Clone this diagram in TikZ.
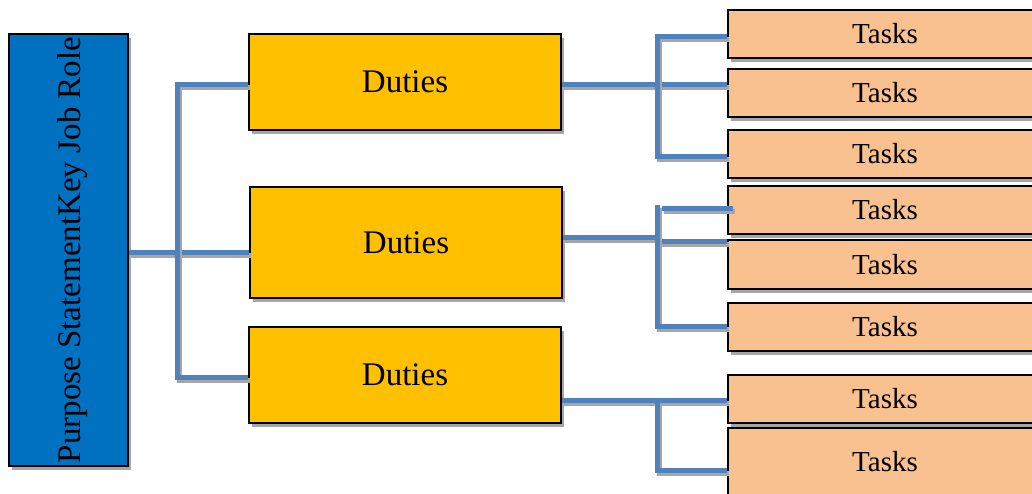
\documentclass[tikz,border=0pt]{standalone}
\usepackage{fontspec}
\setmainfont{Liberation Serif}
\usetikzlibrary{shadows}
\definecolor{roleblue}{HTML}{0070C0}
\definecolor{dutygold}{HTML}{FFC000}
\definecolor{taskpeach}{HTML}{F9C090}
\definecolor{linkblue}{HTML}{4F81BD}
\definecolor{shadegray}{HTML}{A6A6A6}
\tikzset{
  boxbase/.style={draw=black, line width=1.6pt, inner sep=0pt,
    drop shadow={shadow xshift=3pt, shadow yshift=-4pt, fill=shadegray, opacity=1}},
  rolebox/.style={boxbase, fill=roleblue, minimum width=119pt, minimum height=432pt},
  dutybox/.style={boxbase, fill=dutygold, minimum width=312pt, font=\fontsize{33}{36}\selectfont},
  taskbox/.style={boxbase, fill=taskpeach, minimum width=314pt, font=\fontsize{29}{31}\selectfont},
  link/.style={draw=linkblue, line width=5pt,
    preaction={draw=shadegray, line width=5pt, transform canvas={xshift=2pt, yshift=-3pt}}}
}
\begin{document}
\begin{tikzpicture}[x=1pt, y=-1pt]
\useasboundingbox (0,0) rectangle (1032,493);

% job role column
\node[rolebox] (role) at (68.5,250) {};
\node[rotate=90, font=\fontsize{33}{36}\selectfont] (roletext) at (73,250) {Purpose StatementKey Job Role};

% duties
\node[dutybox, minimum height=96pt]  (d1) at (405,82)    {Duties};
\node[dutybox, minimum height=111pt] (d2) at (406,242.5) {Duties};
\node[dutybox, minimum height=96pt]  (d3) at (405,375)   {Duties};

% tasks
\node[taskbox, minimum height=48pt] (t1) at (885,34)    {Tasks};
\node[taskbox, minimum height=48pt] (t2) at (885,93)    {Tasks};
\node[taskbox, minimum height=48pt] (t3) at (885,154)   {Tasks};
\node[taskbox, minimum height=48pt] (t4) at (885,210)   {Tasks};
\node[taskbox, minimum height=49pt] (t5) at (885,264.5) {Tasks};
\node[taskbox, minimum height=48pt] (t6) at (885,327)   {Tasks};
\node[taskbox, minimum height=48pt] (t7) at (885,399)   {Tasks};
\node[taskbox, minimum height=68pt] (t8) at (885,462)   {Tasks};

% junction points
\coordinate (ja) at (177,84);
\coordinate (jb) at (177,377);
\coordinate (k1a) at (657,36);
\coordinate (k1b) at (657,156);
\coordinate (k2m) at (657,237);
\coordinate (k2a) at (657,205);
\coordinate (k2b) at (657,326);
\coordinate (k2t) at (662,208);
\coordinate (k2e) at (733,208);
\coordinate (k3a) at (657,400);
\coordinate (k3b) at (657,470);

% role to duties
\draw[link] (role.east |- 0,252) -- (d2.west |- 0,252);
\draw[link] (d1.west |- ja) -- (ja) -- (jb) -- (d3.west |- jb);

% duties 1 to tasks 1-3
\draw[link] (d1.east |- 0,84) -- (t2.west |- 0,84);
\draw[link] (t1.west |- k1a) -- (k1a) -- (k1b) -- (t3.west |- k1b);

% duties 2 to tasks 4-6
\draw[link] (d2.east |- k2m) -- (k2m);
\draw[link] (k2m |- 0,241) -- (t5.west |- 0,241);
\draw[link] (k2a) -- (k2b) -- (t6.west |- k2b);
\draw[link] (k2t) -- (k2e);

% duties 3 to tasks 7-8
\draw[link] (d3.east |- k3a) -- (t7.west |- k3a);
\draw[link] (k3a) -- (k3b) -- (t8.west |- k3b);
\end{tikzpicture}
\end{document}
